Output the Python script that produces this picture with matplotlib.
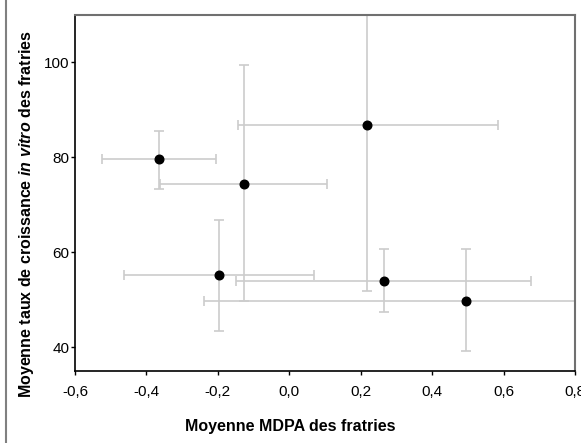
import numpy as np
import matplotlib.pyplot as plt
from matplotlib.lines import Line2D

plt.rcParams['font.family'] = ['Liberation Sans', 'DejaVu Sans']
plt.rcParams['mathtext.fontset'] = 'custom'
plt.rcParams['mathtext.rm'] = 'Liberation Sans:bold'
plt.rcParams['mathtext.it'] = 'Liberation Sans:italic:bold'

# Mean MDPA and growth rate per sibship, with error bar ends
x = [-0.365, -0.128, 0.218, -0.197, 0.265, 0.495]
y = [79.6, 74.5, 86.9, 55.2, 53.9, 49.8]
x_lo = [-0.523, -0.361, -0.145, -0.462, -0.148, -0.238]
x_hi = [-0.206, 0.106, 0.583, 0.068, 0.677, 1.23]
y_lo = [73.4, 49.7, 51.9, 43.4, 47.4, 39.2]
y_hi = [85.6, 99.4, 122.0, 66.9, 60.6, 60.6]

xticks = [-0.6, -0.4, -0.2, 0.0, 0.2, 0.4, 0.6, 0.8]
yticks = [40, 60, 80, 100]

x = np.array(x)
y = np.array(y)
xerr = [x - np.array(x_lo), np.array(x_hi) - x]
yerr = [y - np.array(y_lo), np.array(y_hi) - y]

fig = plt.figure(figsize=(5.81, 4.43), dpi=100)
ax = fig.add_axes([75 / 581, 1 - 371 / 443, 500 / 581, 356 / 443])

ax.errorbar(x, y, xerr=xerr, yerr=yerr, fmt='none', ecolor='#cccccc',
            elinewidth=1.2, capsize=3.8, capthick=1.2, zorder=1)
ax.plot(x, y, 'o', color='black', markersize=6.2, zorder=3)

ax.set_xlim(-0.6, 0.8)
ax.set_ylim(35, 110)
ax.set_xticks(xticks)
ax.set_xticklabels([('%.1f' % t).replace('.', ',') for t in xticks])
ax.set_yticks(yticks)
ax.tick_params(labelsize=11, length=3, width=1, direction='out')
ax.tick_params(axis='x', pad=7)
ax.tick_params(axis='y', pad=1)

for s in ['top', 'right']:
    ax.spines[s].set_color('#707070')
    ax.spines[s].set_linewidth(1.5)
for s in ['left', 'bottom']:
    ax.spines[s].set_color('black')
    ax.spines[s].set_linewidth(1.2)

fig.text(290 / 581, 1 - 426 / 443, 'Moyenne MDPA des fratries', ha='center',
         va='center', fontsize=11.5, fontweight='bold')
fig.text(27 / 581, 1 - 214 / 443,
         r'Moyenne taux de croissance $\mathit{in\ vitro}$ des fratries',
         ha='center', va='center', rotation=90, fontsize=11.5, fontweight='bold')

# left border line of the figure frame
fig.add_artist(Line2D([6 / 581, 6 / 581], [0, 1], color='#808080', lw=1.5,
                      transform=fig.transFigure))

fig.savefig('out.png', dpi=100)
